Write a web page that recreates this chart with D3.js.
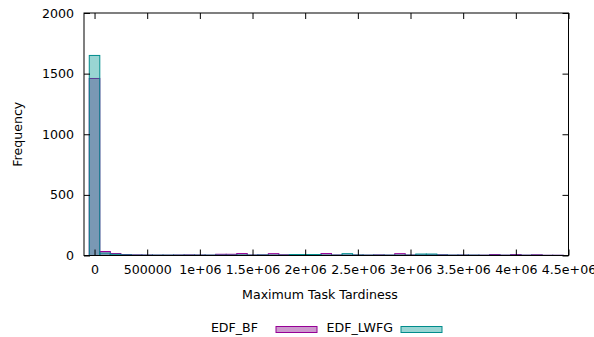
<!DOCTYPE html>
<html>
<head>
<meta charset="utf-8">
<script src="https://cdn.jsdelivr.net/npm/d3@7.9.0/dist/d3.min.js"></script>
<style>
  body { margin: 0; background: #fff; }
  svg { display: block; font-family: 'DejaVu Sans', sans-serif; }
</style>
</head>
<body>
<svg id="chart" width="594" height="337"></svg>
<script>
const binWidth = 100000;
const binCenters = d3.range(0, 45).map((i) => i * binWidth);

const edfBF = [1460, 33, 16, 8, 5, 4, 3, 3, 4, 5, 4, 3, 10, 10, 16, 4, 5, 15, 6, 4, 3, 3, 16, 4, 3, 4, 3, 5, 3, 15, 4, 4, 5, 6, 3, 4, 3, 3, 8, 3, 8, 3, 6, 2, 2];
const edfLWFG = [1650, 20, 10, 5, 3, 3, 3, 3, 3, 3, 3, 3, 3, 3, 4, 3, 4, 3, 3, 8, 8, 8, 3, 3, 15, 4, 3, 3, 3, 3, 3, 12, 12, 4, 3, 3, 3, 2, 2, 2, 2, 2, 2, 1, 1];

const xTicks = [0, 500000, 1000000, 1500000, 2000000, 2500000, 3000000, 3500000, 4000000, 4500000];
const xTickLabels = ['0', '500000', '1e+06', '1.5e+06', '2e+06', '2.5e+06', '3e+06', '3.5e+06', '4e+06', '4.5e+06'];
const yTicks = [0, 500, 1000, 1500, 2000];

const series = [
  { name: 'EDF_BF', values: edfBF, stroke: '#960096', fill: 'rgba(128,0,128,0.4)' },
  { name: 'EDF_LWFG', values: edfLWFG, stroke: '#008c8c', fill: 'rgba(0,150,145,0.4)' }
];

const plotL = 84, plotR = 568.5, plotT = 13, plotB = 255.5;
const fontSize = 12.6;

const svg = d3.select('#chart');

let x = d3.scaleLinear().domain([-100000, 4500000]).range([plotL, plotR]);
let y = d3.scaleLinear().domain([0, 2000]).range([plotB, plotT]);

// bars
series.forEach((s) => {
  svg.append('g')
    .selectAll('rect')
    .data(s.values)
    .join('rect')
    .attr('x', (d, i) => x(binCenters[i] - binWidth / 2))
    .attr('width', (d, i) => x(binCenters[i] + binWidth / 2) - x(binCenters[i] - binWidth / 2))
    .attr('y', (d) => y(d))
    .attr('height', (d) => y(0) - y(d))
    .attr('fill', s.fill)
    .attr('stroke', s.stroke)
    .attr('stroke-width', 1);
});

// axes, gnuplot style: inward ticks mirrored on all sides
const tickLen = 6;
svg.append('g')
  .attr('transform', `translate(0,${plotB})`)
  .call(d3.axisBottom(x).tickValues(xTicks).tickSize(-tickLen).tickPadding(10)
    .tickFormat((d, i) => xTickLabels[i]))
  .call((g) => g.select('.domain').remove());
svg.append('g')
  .attr('transform', `translate(0,${plotT})`)
  .call(d3.axisTop(x).tickValues(xTicks).tickSize(-tickLen).tickFormat(''))
  .call((g) => g.select('.domain').remove());
svg.append('g')
  .attr('transform', `translate(${plotL},0)`)
  .call(d3.axisLeft(y).tickValues(yTicks).tickSize(-tickLen).tickPadding(10)
    .tickFormat(d3.format('d')))
  .call((g) => g.select('.domain').remove());
svg.append('g')
  .attr('transform', `translate(${plotR},0)`)
  .call(d3.axisRight(y).tickValues(yTicks).tickSize(-tickLen).tickFormat(''))
  .call((g) => g.select('.domain').remove());

svg.selectAll('.tick line').attr('stroke', '#000');
svg.selectAll('.tick text')
  .attr('font-family', 'DejaVu Sans')
  .attr('font-size', fontSize)
  .attr('fill', '#000');

svg.append('rect')
  .attr('x', plotL).attr('y', plotT)
  .attr('width', plotR - plotL).attr('height', plotB - plotT)
  .attr('fill', 'none').attr('stroke', '#000').attr('stroke-width', 1);

// labels
svg.append('text')
  .attr('x', 320).attr('y', 299)
  .attr('text-anchor', 'middle').attr('font-size', fontSize)
  .text('Maximum Task Tardiness');

svg.append('text')
  .attr('transform', `translate(22,${(plotT + plotB) / 2}) rotate(-90)`)
  .attr('text-anchor', 'middle').attr('font-size', fontSize)
  .text('Frequency');

// legend
const legend = [
  { s: series[0], textRight: 258, boxX: 276 },
  { s: series[1], textRight: 393, boxX: 401 }
];
legend.forEach((l) => {
  svg.append('text')
    .attr('x', l.textRight).attr('y', 332)
    .attr('text-anchor', 'end').attr('font-size', fontSize)
    .text(l.s.name);
  svg.append('rect')
    .attr('x', l.boxX).attr('y', 326.5)
    .attr('width', 41).attr('height', 6)
    .attr('fill', l.s.fill).attr('stroke', l.s.stroke);
});
</script>
</body>
</html>
